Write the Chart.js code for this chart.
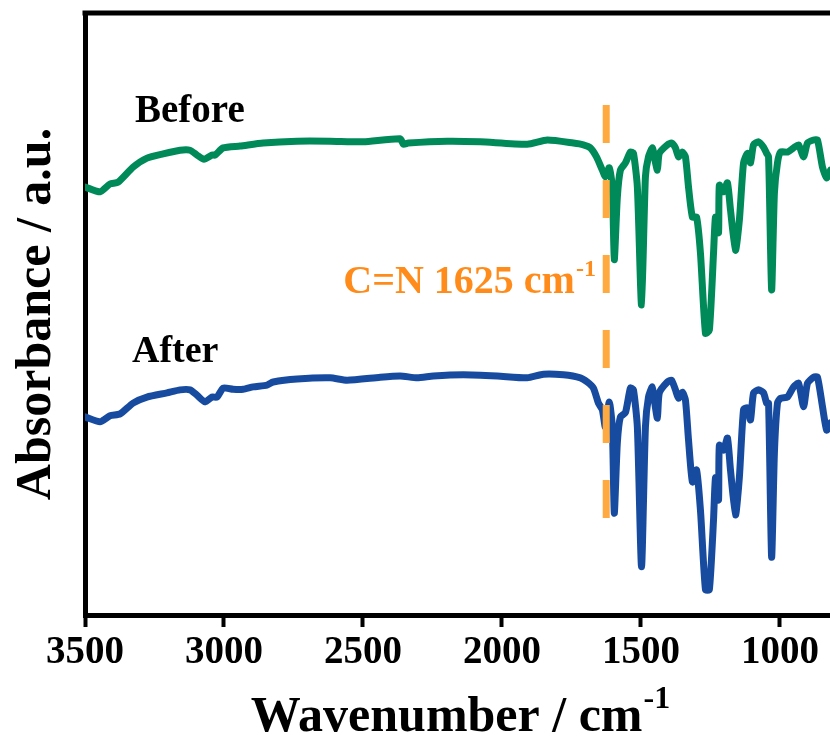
<!DOCTYPE html>
<html>
<head>
<meta charset="utf-8">
<script src="https://cdn.jsdelivr.net/npm/chart.js@4.4.1/dist/chart.umd.min.js"></script>
<style>
  html, body { margin: 0; padding: 0; background: #ffffff; overflow: hidden; }
  #wrap { width: 830px; height: 742px; position: relative; }
</style>
</head>
<body>
<div id="wrap"><canvas id="c" width="830" height="742"></canvas></div>
<script>
// ---- data ----
const xTicks = [3500, 3000, 2500, 2000, 1500, 1000];

const beforeWn = [3500,3446,3410,3381,3327,3277,3219,3158,3122,3097,3072,3043,3032,3003,2942,2859,2737,2618,2499,2366,2355,2337,2197,2078,1909,1837,1743,1707,1682,1660,1639,1628,1614,1603,1596,1585,1574,1556,1538,1527,1513,1498,1484,1473,1459,1452,1441,1434,1405,1390,1376,1365,1351,1340,1329,1315,1300,1286,1268,1254,1239,1232,1221,1218,1203,1189,1178,1160,1146,1131,1117,1106,1095,1077,1059,1048,1041,1030,1020,1009,998,973,951,933,915,901,879,865,847,832,818];
const beforeAbs = [70.6,69.8,71.1,71.4,73.9,75.4,76.1,76.7,76.7,75.9,75.2,75.9,75.9,77.1,77.4,77.9,78.2,78.2,78.1,78.6,77.7,77.9,78.2,78.1,77.7,78.4,77.9,77.6,77.1,75.6,73.4,72.3,73.8,70.6,58.5,68.9,73.4,74.6,76.4,76.2,70.6,51.0,72.3,75.6,77.1,75.6,73.4,76.2,77.6,77.9,77.1,75.6,76.4,75.6,70.6,65.6,65.6,59.6,46.3,46.8,59.6,65.6,63.0,70.9,69.8,71.3,66.8,60.1,65.1,74.6,76.2,74.6,77.6,78.1,77.2,76.2,75.6,53.5,69.6,74.6,76.4,76.4,77.1,77.6,75.6,77.9,78.4,78.4,73.9,72.1,73.4];

const afterWn = [3500,3446,3410,3374,3327,3277,3205,3158,3122,3097,3068,3043,3025,3003,2967,2931,2895,2845,2823,2737,2618,2557,2438,2366,2305,2247,2139,2017,1909,1851,1779,1718,1693,1671,1653,1639,1628,1614,1603,1596,1585,1574,1556,1538,1527,1513,1498,1484,1473,1459,1452,1441,1434,1405,1390,1376,1365,1351,1340,1329,1315,1300,1286,1268,1254,1239,1232,1221,1218,1203,1189,1178,1160,1146,1131,1117,1106,1095,1077,1059,1048,1041,1030,1020,1009,998,973,951,933,915,901,879,865,847,832,818];
const afterAbs = [32.4,31.6,32.6,32.9,34.7,35.7,36.4,36.9,36.9,36.0,34.9,35.7,35.7,37.2,37.0,37.0,37.4,37.7,38.2,38.7,38.9,38.5,39.0,39.2,38.9,39.2,39.4,39.2,38.9,39.5,39.4,38.9,38.2,37.2,34.7,33.6,30.7,34.9,30.7,16.4,28.1,32.4,33.1,37.2,36.9,30.7,7.5,30.7,35.7,37.4,35.2,32.2,36.4,38.2,38.5,36.9,35.5,36.5,35.2,28.6,21.6,23.6,16.9,3.7,3.7,15.3,22.3,18.6,27.7,26.9,28.9,23.6,16.1,22.4,33.6,33.9,31.9,36.4,36.9,36.4,34.7,34.7,9.1,26.4,34.7,35.5,35.7,37.4,38.0,34.1,38.0,39.0,39.0,34.1,30.2,31.4];

const markerWn = 1625;
const markerRange = [84.2, 15.3];

const seriesNames = ['Before', 'After'];
const markerLabel = 'C=N 1625 cm';
const unitSup = '-1';
const xTitle = 'Wavenumber / cm';
const yTitle = 'Absorbance / a.u.';

// ---- chart ----
const FONT = '"Liberation Serif", "Times New Roman", serif';
const toXY = (xs, ys) => xs.map((x, i) => ({ x: x, y: ys[i] }));

const labelSpots = [
  { text: seriesNames[0], wn: 3320, v: 81.4, color: '#000000', size: 39 },
  { text: seriesNames[1], wn: 3331, v: 41.5, color: '#000000', size: 38 }
];

function supText(ctx, base, sup, x, y, size, supSize, raise, align) {
  ctx.font = 'bold ' + size + 'px ' + FONT;
  const wb = ctx.measureText(base).width;
  ctx.font = 'bold ' + supSize + 'px ' + FONT;
  const ws = ctx.measureText(sup).width;
  let x0 = x;
  if (align === 'center') x0 = x - (wb + ws) / 2;
  ctx.textAlign = 'left';
  ctx.textBaseline = 'alphabetic';
  ctx.font = 'bold ' + size + 'px ' + FONT;
  ctx.fillText(base, x0, y);
  ctx.font = 'bold ' + supSize + 'px ' + FONT;
  ctx.fillText(sup, x0 + wb + 1, y - raise);
}

const decor = {
  id: 'decor',
  afterDatasetsDraw(chart) {
    const { ctx, chartArea, scales } = chart;
    ctx.save();
    // top frame line
    ctx.strokeStyle = '#000';
    ctx.lineWidth = 5;
    ctx.beginPath();
    ctx.moveTo(chartArea.left - 2.5, chartArea.top);
    ctx.lineTo(chartArea.right + 5, chartArea.top);
    ctx.stroke();
    // series labels
    labelSpots.forEach(s => {
      ctx.fillStyle = s.color;
      ctx.font = 'bold ' + s.size + 'px ' + FONT;
      ctx.textAlign = 'left';
      ctx.textBaseline = 'alphabetic';
      ctx.fillText(s.text, scales.x.getPixelForValue(s.wn), scales.y.getPixelForValue(s.v));
    });
    // marker label
    ctx.fillStyle = '#FF8C1A';
    supText(ctx, markerLabel, unitSup, scales.x.getPixelForValue(2571), scales.y.getPixelForValue(53.0), 40, 24, 17, 'left');
    ctx.restore();
  },
  afterDraw(chart) {
    const { ctx, chartArea } = chart;
    ctx.save();
    ctx.fillStyle = '#000';
    // x title
    supText(ctx, xTitle, unitSup, 460, 731, 50, 32, 23, 'center');
    // y title
    ctx.translate(50, (chartArea.top + chartArea.bottom) / 2);
    ctx.rotate(-Math.PI / 2);
    ctx.font = 'bold 50px ' + FONT;
    ctx.textAlign = 'center';
    ctx.textBaseline = 'alphabetic';
    ctx.fillText(yTitle, 0, 0);
    ctx.restore();
  }
};

new Chart(document.getElementById('c'), {
  type: 'line',
  data: {
    datasets: [
      {
        label: 'C=N 1625',
        data: [{ x: markerWn, y: markerRange[0] }, { x: markerWn, y: markerRange[1] }],
        borderColor: '#FFAA40',
        borderWidth: 7,
        borderDash: [38, 37],
        borderCapStyle: 'butt',
        pointRadius: 0,
        order: 0
      },
      {
        label: seriesNames[0],
        data: toXY(beforeWn, beforeAbs),
        borderColor: '#008A5A',
        borderWidth: 7,
        tension: 0.2,
        borderJoinStyle: 'round',
        borderCapStyle: 'round',
        pointRadius: 0,
        order: 1
      },
      {
        label: seriesNames[1],
        data: toXY(afterWn, afterAbs),
        borderColor: '#174BA0',
        borderWidth: 7,
        tension: 0.2,
        borderJoinStyle: 'round',
        borderCapStyle: 'round',
        pointRadius: 0,
        order: 2
      }
    ]
  },
  options: {
    responsive: false,
    animation: false,
    events: [],
    layout: { padding: { top: 13, right: 0, left: 0, bottom: 0 } },
    plugins: { legend: { display: false }, tooltip: { enabled: false } },
    scales: {
      x: {
        type: 'linear',
        reverse: true,
        min: 820,
        max: 3500,
        afterBuildTicks: s => { s.ticks = xTicks.map(v => ({ value: v })); },
        afterFit: s => { s.height = 127; },
        border: { display: true, color: '#000', width: 5 },
        grid: { display: true, drawOnChartArea: false, drawTicks: true, tickLength: 12, tickWidth: 4, tickColor: '#000', color: '#000' },
        ticks: { color: '#000', font: { family: FONT, size: 39, weight: 'bold' }, padding: 3, maxRotation: 0, autoSkip: false,
                 callback: v => String(v) },
        title: { display: false }
      },
      y: {
        min: -0.5,
        max: 99.5,
        afterFit: s => { s.width = 85; },
        border: { display: true, color: '#000', width: 5 },
        grid: { display: false, drawTicks: false },
        ticks: { display: false },
        title: { display: false }
      }
    }
  },
  plugins: [decor]
});
</script>
</body>
</html>
